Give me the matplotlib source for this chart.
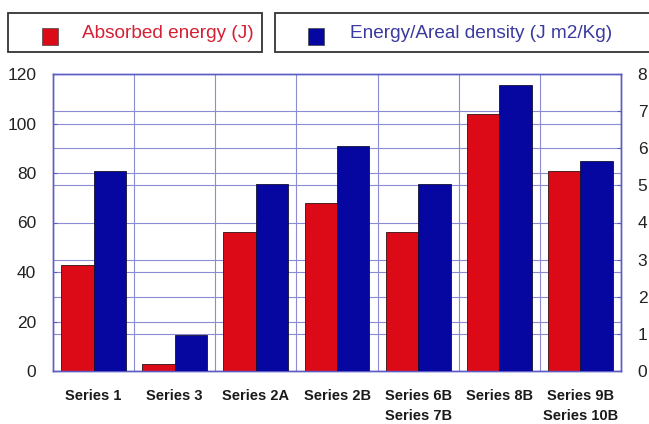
import numpy as np
import matplotlib
matplotlib.use('Agg')
import matplotlib.pyplot as plt
from matplotlib.patches import Rectangle

plt.rcParams['font.family'] = ['Liberation Sans', 'DejaVu Sans']

# ================== Data ==================
CATEGORIES = ['Series 1', 'Series 3', 'Series 2A', 'Series 2B',
              'Series 6B\nSeries 7B', 'Series 8B', 'Series 9B\nSeries 10B']
ENERGY = [43, 3, 56, 68, 56, 104, 81]                      # left axis, J
ENERGY_AREAL = [5.38, 0.96, 5.05, 6.07, 5.05, 7.7, 5.65]   # right axis, J m2/Kg

LEFT_TICKS = [0, 20, 40, 60, 80, 100, 120]
RIGHT_TICKS = [0, 1, 2, 3, 4, 5, 6, 7, 8]

LABELS = ['Absorbed energy (J)', 'Energy/Areal density (J m2/Kg)']

# ================== Style ==================
RED = '#dc0a16'
BLUE = '#0606a0'
FRAME = '#5c5cc4'
GRID = '#8c8cd4'
BARWIDTH = 0.4

fig = plt.figure(figsize=(6.49, 4.24), dpi=100)
ax = fig.add_axes([53/649, 1 - 371/424, (621-53)/649, (371-74)/424])
ax2 = ax.twinx()

xs = np.arange(len(CATEGORIES))
ax.bar(xs - BARWIDTH, ENERGY, BARWIDTH, align='edge', color=RED,
       edgecolor='#331111', linewidth=0.6, zorder=3)
ax2.bar(xs, ENERGY_AREAL, BARWIDTH, align='edge', color=BLUE,
        edgecolor='#111133', linewidth=0.6, zorder=3)

ax.set_xlim(-0.5, len(CATEGORIES) - 0.5)
ax.set_ylim(0, 120)
ax2.set_ylim(0, 8)
ax.set_yticks(LEFT_TICKS)
ax2.set_yticks(RIGHT_TICKS)

# grid for both scales lives on the lower axes so it stays behind the bars
scale = 120 / 8
ax.set_yticks([t * scale for t in RIGHT_TICKS[1:-1]], minor=True)
ax.set_xticks(xs + 0.5, minor=True)
ax.set_axisbelow(True)
ax.grid(True, which='both', color=GRID, linewidth=0.8)
ax.grid(False, which='major', axis='x')

ax.set_xticks(xs)
ax.set_xticklabels(CATEGORIES, fontsize=10.5, fontweight='bold', linespacing=1.5,
                   color='#1a1a1a')
ax.tick_params(axis='x', which='both', length=0, pad=13)
ax.tick_params(axis='y', which='major', direction='in', length=3, color=FRAME,
               labelsize=12.5, pad=12, labelcolor='#222222')
ax.tick_params(axis='y', which='minor', length=0)
ax2.tick_params(axis='y', direction='in', length=3, color=FRAME,
                labelsize=12.5, pad=12, labelcolor='#222222')

for a in (ax, ax2):
    for s in a.spines.values():
        s.set_color(FRAME)
        s.set_linewidth(1.0)

# ================== Legend (two separate boxes) ==================
def px(x, y):
    return x / 649, 1 - y / 424

for (x0, x1, mx, tx), label, col, tcol in zip(
        [(8, 262, 42, 82), (275, 700, 308, 350)], LABELS,
        [RED, BLUE], ['#d42035', '#3a3aa0']):
    bx, by = px(x0, 52)
    fig.add_artist(Rectangle((bx, by), (x1 - x0) / 649, 39 / 424,
                             transform=fig.transFigure, facecolor='white',
                             edgecolor='#333333', linewidth=1.3))
    mxx, myy = px(mx, 45)
    fig.add_artist(Rectangle((mxx, myy), 16 / 649, 17 / 424,
                             transform=fig.transFigure, facecolor=col,
                             edgecolor='#444444', linewidth=0.5))
    fig.text(*px(tx, 34), label, color=tcol, fontsize=13.7, va='center', ha='left')

plt.savefig('out.png', dpi=100)
